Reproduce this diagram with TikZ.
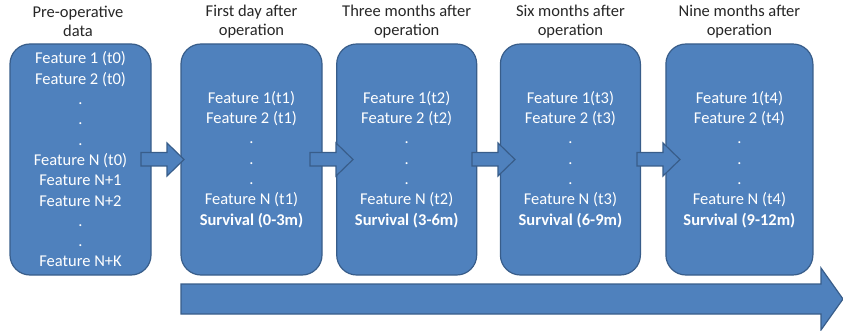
\documentclass[tikz,border=0pt]{standalone}
\usepackage{fontspec}
\setmainfont{Carlito}
\definecolor{boxfill}{HTML}{4F81BD}
\definecolor{boxline}{HTML}{385D8A}
\begin{document}
\begin{tikzpicture}[x=1pt,y=-1pt,
  stage/.style={draw=boxline, line width=1.2pt, fill=boxfill, rounded corners=20pt,
    minimum height=231pt, inner sep=0pt, text=white, align=center,
    font=\fontsize{16.5}{20.3}\selectfont},
  title/.style={text=black!85, align=center, inner sep=0pt, font=\fontsize{16.5}{19}\selectfont},
  blockarrow/.style={draw=boxline, line width=1.2pt, fill=boxfill, line join=miter}]
\useasboundingbox (0,0) rectangle (843,331);

\node[stage, minimum width=141pt] (b0) at (80.5,159.5) {Feature 1 (t0)\\Feature 2 (t0)\\.\\.\\.\\Feature N (t0)\\Feature N+1\\Feature N+2\\.\\.\\Feature N+K};
\node[stage, minimum width=141pt] (b1) at (251.5,159.5) {Feature 1(t1)\\Feature 2 (t1)\\.\\.\\.\\Feature N (t1)\\\textbf{Survival (0-3m)}};
\node[stage, minimum width=140pt] (b2) at (406.7,159.5) {Feature 1(t2)\\Feature 2 (t2)\\.\\.\\.\\Feature N (t2)\\\textbf{Survival (3-6m)}};
\node[stage, minimum width=140pt] (b3) at (570.4,159.5) {Feature 1(t3)\\Feature 2 (t3)\\.\\.\\.\\Feature N (t3)\\\textbf{Survival (6-9m)}};
\node[stage, minimum width=147pt] (b4) at (739.4,159.5) {Feature 1(t4)\\Feature 2 (t4)\\.\\.\\.\\Feature N (t4)\\\textbf{Survival (9-12m)}};

\node[title] (t0) at (78,21.5) {Pre-operative\\data};
\node[title] (t1) at (251.5,21.5) {First day after\\operation};
\node[title] (t2) at (406.7,21.5) {Three months after\\operation};
\node[title] (t3) at (570.4,21.5) {Six months after\\operation};
\node[title] (t4) at (739.4,21.5) {Nine months after\\operation};

\foreach \s in {141,310,472,637}{
  \draw[blockarrow] (\s,152.5) -- (\s+26,152.5) -- (\s+26,143) -- (\s+43,159.5)
    -- (\s+26,176) -- (\s+26,166) -- (\s,166) -- cycle;
}

\draw[blockarrow] (181,284) -- (821,284) -- (821,268) -- (843,299) -- (821,330)
  -- (821,314) -- (181,314) -- cycle;
\end{tikzpicture}
\end{document}
